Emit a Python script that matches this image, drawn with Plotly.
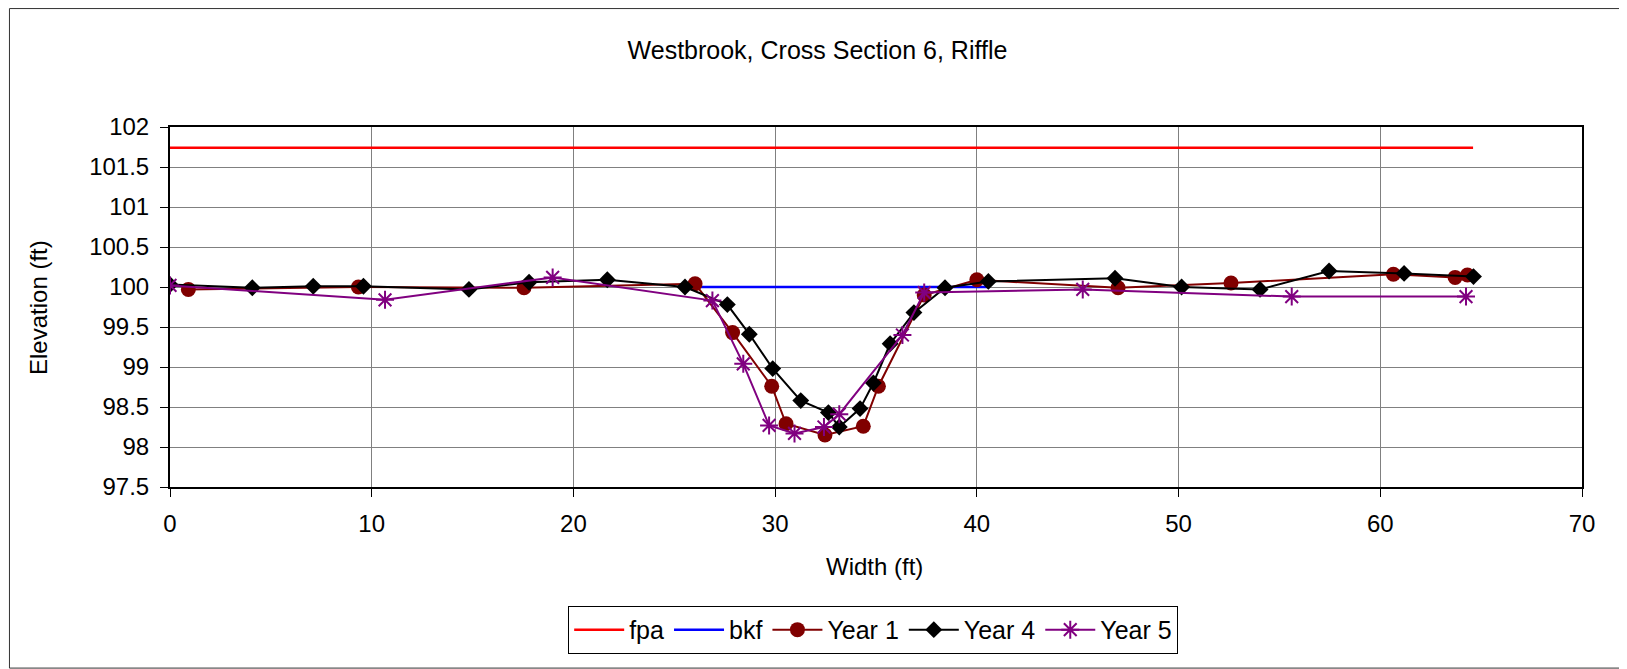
"""
Westbrook cross section 6 (riffle) - elevation survey comparison
"""

import plotly.graph_objects as go

# fpa / bkf reference lines
fpa_x = [0, 64.6]
fpa_y = [101.74, 101.74]
bkf_x = [26.03, 40.57]
bkf_y = [100.0, 100.0]

# Year 1 survey
year1_x = [0.91, 9.34, 17.55, 26.03, 27.89, 29.83, 30.54, 32.47, 34.37, 35.12,
           37.39, 40.0, 47.0, 52.6, 60.65, 63.71, 64.32]
year1_y = [99.97, 100.0, 99.99, 100.04, 99.43, 98.76, 98.29, 98.15, 98.26, 98.76,
           99.90, 100.09, 99.99, 100.05, 100.16, 100.12, 100.15]

# Year 4 survey
year4_x = [0, 4.08, 7.1, 9.59, 14.82, 17.8, 21.68, 25.53, 27.63, 28.72, 29.88,
           31.27, 32.64, 33.18, 34.21, 34.87, 35.70, 36.88, 38.42, 40.57, 46.85,
           50.15, 54.04, 57.46, 61.18, 64.62]
year4_y = [100.03, 99.99, 100.01, 100.01, 99.97, 100.06, 100.09, 100.0, 99.78,
           99.41, 98.98, 98.58, 98.43, 98.25, 98.48, 98.8, 99.29, 99.68, 99.99,
           100.07, 100.11, 100.0, 99.97, 100.2, 100.17, 100.13]

# Year 5 survey
year5_x = [0, 10.66, 18.97, 26.89, 28.42, 29.70, 30.96, 32.42, 33.18, 36.31,
           37.39, 45.25, 55.61, 64.25]
year5_y = [100.02, 99.84, 100.12, 99.83, 99.04, 98.27, 98.17, 98.25, 98.41, 99.40,
           99.93, 99.97, 99.88, 99.88]

FONT = 'Liberation Sans, Arial, sans-serif'

fig = go.Figure()

fig.add_trace(go.Scatter(x=fpa_x, y=fpa_y, mode='lines', name='fpa',
                         line=dict(color='#FF0000', width=2.5)))
fig.add_trace(go.Scatter(x=bkf_x, y=bkf_y, mode='lines', name='bkf',
                         line=dict(color='#0000FF', width=2.5)))
fig.add_trace(go.Scatter(x=year1_x, y=year1_y, mode='lines+markers', name='Year 1',
                         line=dict(color='#800000', width=2),
                         marker=dict(symbol='circle', size=15, color='#800000')))
fig.add_trace(go.Scatter(x=year4_x, y=year4_y, mode='lines+markers', name='Year 4',
                         line=dict(color='#000000', width=2),
                         marker=dict(symbol='diamond', size=13, color='#000000')))
fig.add_trace(go.Scatter(x=year5_x, y=year5_y, mode='lines+markers', name='Year 5',
                         line=dict(color='#800080', width=2),
                         marker=dict(symbol='asterisk-open', size=15,
                                     line=dict(color='#800080', width=2))))

# outer chart frame
fig.add_shape(type='rect', xref='paper', yref='paper',
              x0=-0.1137, x1=1.0276, y0=-0.503, y1=1.329,
              line=dict(color='#333333', width=1), layer='below')

# axis titles placed by hand
fig.add_annotation(text='Width (ft)', xref='paper', yref='paper',
                   x=0.4986, y=-0.222, xanchor='center', yanchor='middle',
                   showarrow=False, font=dict(family=FONT, size=24, color='black'))
fig.add_annotation(text='Elevation (ft)', xref='paper', yref='paper',
                   x=-0.0935, y=0.5, xanchor='center', yanchor='middle',
                   textangle=-90, showarrow=False,
                   font=dict(family=FONT, size=24, color='black'))

# page body adds an 8px offset, so the figure is 8px smaller on each side
fig.update_layout(
    width=1619,
    height=661,
    margin=dict(l=162, r=45, t=119, b=182),
    paper_bgcolor='white',
    plot_bgcolor='white',
    font=dict(family=FONT, size=24, color='black'),
    title=dict(text='Westbrook, Cross Section 6, Riffle', x=0.5, y=0.9365,
               xanchor='center', yanchor='middle',
               font=dict(family=FONT, size=25, color='black')),
    showlegend=True,
    legend=dict(orientation='h', x=0.498, y=-0.397, xanchor='center', yanchor='middle',
                bordercolor='black', borderwidth=1, bgcolor='white',
                font=dict(family=FONT, size=25, color='black'),
                itemwidth=50),
    xaxis=dict(range=[0, 70], dtick=10, tick0=0,
               showgrid=True, gridcolor='#808080', gridwidth=1,
               showline=True, linecolor='black', linewidth=2, mirror=True,
               ticks='outside', ticklen=8, tickcolor='black',
               ticklabelstandoff=6, zeroline=False),
    yaxis=dict(range=[97.5, 102], dtick=0.5, tick0=97.5,
               showgrid=True, gridcolor='#808080', gridwidth=1,
               showline=True, linecolor='black', linewidth=2, mirror=True,
               ticks='outside', ticklen=8, tickcolor='black',
               ticklabelstandoff=6, zeroline=False),
)

fig.write_html("out.html")
